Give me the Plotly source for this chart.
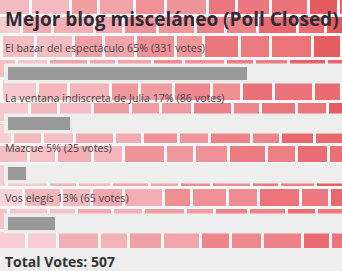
import plotly.graph_objects as go

# ---- data ----
title = "Mejor blog misceláneo (Poll Closed)"
options = ["El bazar del espectáculo", "La ventana indiscreta de Julia", "Mazcue", "Vos elegís"]
votes = [331, 86, 25, 65]
total_votes = sum(votes)
pct = [v / total_votes * 100 for v in votes]

W, H = 342, 271

fig = go.Figure()

# ---- decorative mosaic background (paper coords, pixels) ----
shapes = []
widths = [32, 40, 28, 36, 31, 42, 29, 34, 38, 30]
heights = [22, 19, 24, 20, 23, 21]
var = [0, 10, -8, 5, -4, 12, -10, 3, 7, -6, 9]
gap = 3
y = -5
r = 0
def lerp(a, b, t):
    return a + (b - a) * t
while y < H:
    row_h = heights[r % len(heights)]
    x = -((r * 13) % 27)
    c = r * 3
    while x < W:
        w = widths[c % len(widths)]
        xc = min(max((x + w / 2) / W, 0), 1)
        yc = min(max((y + row_h / 2) / H, 0), 1)
        t = xc * 0.85 + (1 - yc) * 0.15
        d = var[(c + r * 2) % len(var)]
        rr = lerp(248, 231, t) + d * 0.2
        gg = lerp(210, 92, t) + d
        bb = lerp(214, 98, t) + d
        col = f"rgb({int(min(255, rr))},{int(min(255, gg))},{int(min(255, bb))})"
        shapes.append(dict(type="rect", xref="paper", yref="paper",
                           x0=(x) / W, x1=(x + w - gap) / W,
                           y0=1 - (y + row_h - gap) / H, y1=1 - y / H,
                           fillcolor=col, line=dict(width=0), layer="below"))
        x += w
        c += 1
    y += row_h
    r += 1

# light bands behind the bars
for i in range(len(options)):
    shapes.append(dict(type="rect", xref="paper", yref="y",
                       x0=4 / W, x1=1, y0=i - 0.2, y1=i + 0.2,
                       fillcolor="#eeeeee", line=dict(width=0), layer="below"))
# bottom total band
shapes.append(dict(type="rect", xref="paper", yref="paper",
                   x0=0, x1=1, y0=0, y1=1 - 248 / H,
                   fillcolor="#eeeeee", line=dict(width=0), layer="below"))

fig.add_trace(go.Bar(
    x=pct, y=list(range(len(options))), orientation="h",
    width=0.26, marker=dict(color="#999999", line=dict(width=0)),
    hoverinfo="skip"))

annotations = []
for i, (name, v, p) in enumerate(zip(options, votes, pct)):
    annotations.append(dict(
        xref="paper", yref="y", x=3 / W, y=i - 0.51,
        text=f"{name} {round(p)}% ({v} votes)", showarrow=False,
        xanchor="left", yanchor="middle",
        font=dict(family="Open Sans", size=10.7, color="#4a4446")))
annotations.append(dict(
    xref="paper", yref="paper", x=3 / W, y=1 - 19 / H,
    text=f"<b>{title}</b>", showarrow=False, xanchor="left", yanchor="middle",
    font=dict(family="Open Sans", size=19, color="#2e2b36")))
annotations.append(dict(
    xref="paper", yref="paper", x=3 / W, y=1 - 261 / H,
    text=f"<b>Total Votes: {total_votes}</b>", showarrow=False,
    xanchor="left", yanchor="middle",
    font=dict(family="Open Sans", size=14, color="#333333")))

px_per_pct = 3.66
fig.update_layout(
    width=W, height=H, margin=dict(l=0, r=0, t=0, b=0),
    paper_bgcolor="#fff9f9", plot_bgcolor="rgba(0,0,0,0)",
    showlegend=False, shapes=shapes, annotations=annotations,
    xaxis=dict(range=[-8 / px_per_pct, (W - 8) / px_per_pct], visible=False, fixedrange=True),
    yaxis=dict(range=[(H - 73.5) / 50, -73.5 / 50], visible=False, fixedrange=True),
    bargap=0,
)
fig.write_html("out.html", config=dict(displayModeBar=False))
